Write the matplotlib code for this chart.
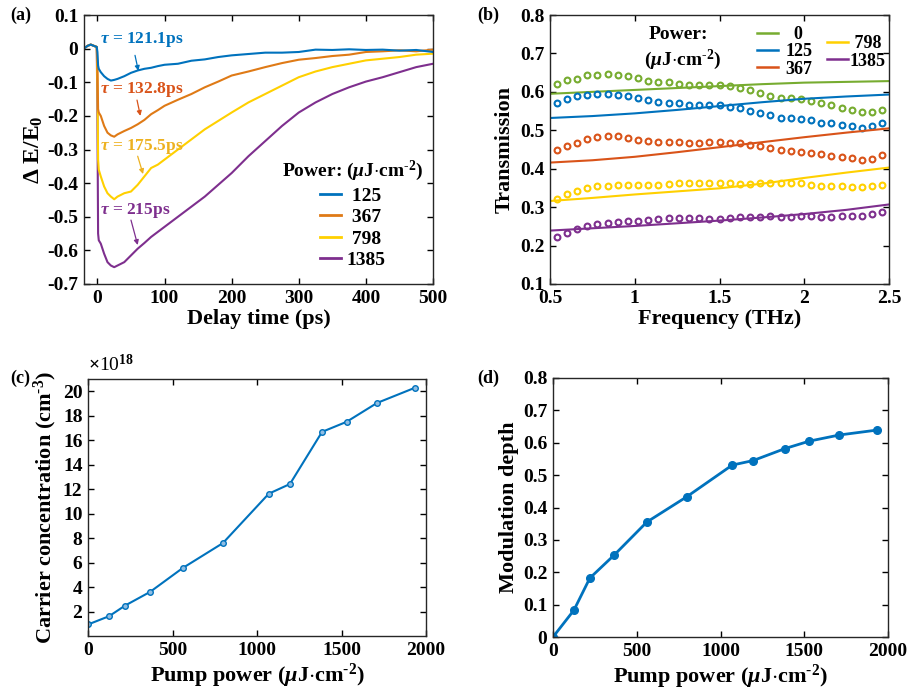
import numpy as np
import matplotlib
matplotlib.use("Agg")
import matplotlib.pyplot as plt
from matplotlib.lines import Line2D

plt.rcParams["font.family"] = ["Liberation Serif", "DejaVu Serif"]
plt.rcParams["font.weight"] = "bold"
plt.rcParams["axes.labelweight"] = "bold"
plt.rcParams["axes.unicode_minus"] = False
plt.rcParams["mathtext.fontset"] = "custom"
plt.rcParams["mathtext.rm"] = "Liberation Serif:bold"
plt.rcParams["mathtext.it"] = "Liberation Serif:italic:bold"
plt.rcParams["mathtext.bf"] = "Liberation Serif:bold"

# colours (MATLAB-like)
C_BLUE = "#0072BD"
C_ORANGE = "#DF7A16"
C_RED = "#D95319"
C_YELLOW = "#FFD000"
C_YELLOW_TXT = "#EDB120"
C_PURPLE = "#7E2F8E"
C_GREEN = "#77AC30"

# ---- panel (a): transient dE/E0 ----
delay_ps = [-20, -15, -10, -5, -1, 0, 1, 2, 5, 10, 15, 20, 25, 30, 40, 50, 60, 70,
            80, 90, 100, 120, 140, 160, 180, 200, 225, 250, 275, 300, 325, 350,
            375, 400, 425, 450, 475, 500]
de_125 = [0.0, 0.008, 0.012, 0.008, 0.005, -0.01, -0.05, -0.06, -0.07, -0.082, -0.09,
          -0.095, -0.093, -0.09, -0.082, -0.072, -0.065, -0.06, -0.057, -0.052, -0.048,
          -0.045, -0.036, -0.032, -0.025, -0.02, -0.016, -0.012, -0.012, -0.01, -0.003,
          -0.004, -0.002, -0.004, -0.003, -0.006, -0.004, -0.01]
de_367 = [0.0, 0.008, 0.012, 0.008, 0.005, -0.05, -0.18, -0.19, -0.2, -0.23, -0.25,
          -0.258, -0.262, -0.255, -0.245, -0.236, -0.225, -0.212, -0.195, -0.183, -0.17,
          -0.152, -0.135, -0.115, -0.098, -0.08, -0.068, -0.055, -0.043, -0.033, -0.028,
          -0.022, -0.018, -0.01, -0.008, -0.005, -0.008, -0.003]
de_798 = [0.0, 0.008, 0.012, 0.008, 0.005, -0.1, -0.33, -0.36, -0.38, -0.41, -0.43,
          -0.44, -0.448, -0.44, -0.43, -0.425, -0.405, -0.38, -0.355, -0.345, -0.33,
          -0.3, -0.27, -0.24, -0.215, -0.19, -0.16, -0.135, -0.11, -0.085, -0.068,
          -0.055, -0.045, -0.035, -0.03, -0.025, -0.018, -0.015]
de_1385 = [0.0, 0.008, 0.012, 0.008, 0.005, -0.2, -0.55, -0.57, -0.58, -0.61, -0.635,
           -0.645, -0.65, -0.645, -0.635, -0.615, -0.595, -0.578, -0.56, -0.545, -0.53,
           -0.5, -0.47, -0.44, -0.405, -0.37, -0.32, -0.275, -0.23, -0.19, -0.16,
           -0.135, -0.115, -0.098, -0.085, -0.07, -0.055, -0.045]
tau_labels = ["121.1", "132.8", "175.5", "215"]

# ---- panel (b): transmission spectra ----
freq_thz = [0.54, 0.60, 0.66, 0.72, 0.78, 0.84, 0.90, 0.96, 1.02, 1.08, 1.14, 1.20,
            1.26, 1.32, 1.38, 1.44, 1.50, 1.56, 1.62, 1.68, 1.74, 1.80, 1.86, 1.92,
            1.98, 2.04, 2.10, 2.16, 2.22, 2.28, 2.34, 2.40, 2.46]
tr_0 = [0.620, 0.630, 0.634, 0.643, 0.645, 0.646, 0.645, 0.641, 0.635, 0.629, 0.625,
        0.625, 0.621, 0.619, 0.619, 0.619, 0.618, 0.615, 0.609, 0.604, 0.597, 0.590,
        0.585, 0.584, 0.582, 0.576, 0.571, 0.565, 0.559, 0.553, 0.547, 0.547, 0.554]
tr_125 = [0.572, 0.582, 0.588, 0.593, 0.595, 0.595, 0.593, 0.590, 0.585, 0.579, 0.573,
          0.572, 0.570, 0.566, 0.566, 0.565, 0.565, 0.561, 0.557, 0.550, 0.545, 0.539,
          0.533, 0.531, 0.529, 0.526, 0.520, 0.518, 0.514, 0.510, 0.505, 0.510, 0.519]
tr_367 = [0.449, 0.459, 0.466, 0.477, 0.483, 0.484, 0.484, 0.479, 0.474, 0.472, 0.469,
          0.469, 0.469, 0.468, 0.468, 0.470, 0.469, 0.467, 0.466, 0.463, 0.458, 0.454,
          0.449, 0.446, 0.443, 0.442, 0.438, 0.433, 0.431, 0.427, 0.422, 0.425, 0.436]
tr_798 = [0.322, 0.335, 0.342, 0.350, 0.354, 0.356, 0.358, 0.358, 0.358, 0.358, 0.358,
          0.361, 0.362, 0.363, 0.363, 0.364, 0.363, 0.363, 0.361, 0.361, 0.362, 0.362,
          0.362, 0.362, 0.362, 0.358, 0.356, 0.356, 0.354, 0.353, 0.352, 0.354, 0.358]
tr_1385 = [0.222, 0.232, 0.243, 0.251, 0.255, 0.259, 0.261, 0.263, 0.265, 0.266, 0.269,
           0.272, 0.273, 0.273, 0.272, 0.270, 0.270, 0.273, 0.274, 0.275, 0.275, 0.276,
           0.275, 0.275, 0.276, 0.276, 0.275, 0.275, 0.277, 0.277, 0.277, 0.281, 0.287]
# fitted curves
fit_freq = [0.5, 0.75, 1.0, 1.25, 1.5, 1.75, 2.0, 2.25, 2.5]
fit_0 = [0.595, 0.600, 0.605, 0.610, 0.615, 0.620, 0.624, 0.626, 0.628]
fit_125 = [0.532, 0.537, 0.544, 0.553, 0.563, 0.573, 0.582, 0.588, 0.593]
fit_367 = [0.416, 0.422, 0.431, 0.443, 0.456, 0.469, 0.482, 0.494, 0.505]
fit_798 = [0.316, 0.324, 0.333, 0.341, 0.349, 0.361, 0.376, 0.390, 0.403]
fit_1385 = [0.239, 0.245, 0.251, 0.258, 0.265, 0.273, 0.282, 0.293, 0.307]

# ---- panels (c), (d) ----
pump_power = [0, 125, 220, 367, 560, 798, 1070, 1195, 1385, 1530, 1710, 1932]
carrier_1e18 = [0.94, 1.62, 2.49, 3.60, 5.55, 7.59, 11.63, 12.42, 16.68, 17.50, 19.04, 20.27]
mod_depth = [0.0, 0.083, 0.182, 0.254, 0.355, 0.433, 0.531, 0.545, 0.582, 0.605, 0.624, 0.639]

TICK_FS = 14
LABEL_FS = 16
W, H = 908, 693
UNIT = r"($\mu$J$\cdot$cm$^{\text{-2}}$)"


def style_axes(ax):
    ax.tick_params(direction="in", top=True, right=True, labelsize=TICK_FS,
                   length=4, width=1, pad=4)
    for s in ax.spines.values():
        s.set_linewidth(1.0)
        s.set_color("#262626")


def fig_rect(left, top, right, bottom):
    return [left / W, 1 - bottom / H, (right - left) / W, (bottom - top) / H]


fig = plt.figure(figsize=(9.08, 6.93), dpi=100)

# (a)
ax = fig.add_axes(fig_rect(84, 15, 433, 284))
series_a = [(de_125, C_BLUE, "125"), (de_367, C_ORANGE, "367"),
            (de_798, C_YELLOW, "798"), (de_1385, C_PURPLE, "1385")]
for y, c, lab in reversed(series_a):
    ax.plot(delay_ps, y, color=c, lw=1.5, label=lab)
ax.set_xlim(-20, 500)
ax.set_ylim(-0.7, 0.1)
ax.set_xticks([0, 100, 200, 300, 400, 500])
ax.set_yticks(np.round(np.arange(-0.7, 0.11, 0.1), 1))
ax.set_yticklabels(["-0.7", "-0.6", "-0.5", "-0.4", "-0.3", "-0.2", "-0.1", "0", "0.1"])
ax.set_xlabel("Delay time (ps)", fontsize=LABEL_FS, labelpad=2)
ax.set_ylabel(r"$\Delta$ E/E$_0$", fontsize=LABEL_FS + 1, labelpad=2)
style_axes(ax)

ann = [  # text pos, arrow start, arrow end
    ((4, 0.026), (56, -0.02), (61, -0.066), C_BLUE),
    ((4, -0.123), (59, -0.153), (64, -0.2), C_RED),
    ((4, -0.292), (60, -0.32), (68, -0.373), C_YELLOW_TXT),
    ((4, -0.482), (50, -0.51), (60, -0.584), C_PURPLE),
]
for (tp, a0, a1, c), tv in zip(ann, tau_labels):
    ax.text(tp[0], tp[1], r"$\tau$ = " + tv + "ps", color=c, fontsize=12.5,
            va="center", ha="left")
    ax.annotate("", xy=a1, xytext=a0,
                arrowprops=dict(arrowstyle="-|>", color=c, lw=0.9,
                                mutation_scale=7, shrinkA=0, shrinkB=0))

handles = [Line2D([], [], color=c, lw=2) for _, c, _ in series_a]
leg = ax.legend(handles, [" 125", " 367", " 798", "1385"], loc="upper center",
                bbox_to_anchor=(0.77, 0.53), frameon=False, fontsize=14,
                handlelength=1.1, handletextpad=0.3, labelspacing=0.2,
                title="Power: " + UNIT,
                title_fontproperties={"size": 14, "weight": "bold"})

# (b)
ax = fig.add_axes(fig_rect(550, 15, 889, 284))
series_b = [(tr_0, fit_0, C_GREEN, "0"), (tr_125, fit_125, C_BLUE, "125"),
            (tr_367, fit_367, C_RED, "367"), (tr_798, fit_798, C_YELLOW, "798"),
            (tr_1385, fit_1385, C_PURPLE, "1385")]
for dots, fit, c, lab in series_b:
    ax.plot(fit_freq, fit, color=c, lw=1.5)
    ax.plot(freq_thz, dots, "o", ls="none", mfc="none", mec=c, ms=4.2, mew=1.5)
ax.set_xlim(0.5, 2.5)
ax.set_ylim(0.1, 0.8)
ax.set_xticks([0.5, 1, 1.5, 2, 2.5])
ax.set_xticklabels(["0.5", "1", "1.5", "2", "2.5"])
ax.set_yticks([0.1, 0.2, 0.3, 0.4, 0.5, 0.6, 0.7, 0.8])
ax.set_xlabel("Frequency (THz)", fontsize=LABEL_FS, labelpad=2)
ax.set_ylabel("Transmission", fontsize=LABEL_FS, labelpad=4)
style_axes(ax)
ax.text(0.378, 0.926, "Power:", transform=ax.transAxes, fontsize=14,
        ha="center", va="center")
ax.text(0.39, 0.833, UNIT, transform=ax.transAxes,
        fontsize=14, ha="center", va="center")
h1 = [Line2D([], [], color=c, lw=1.8) for _, _, c, _ in series_b[:3]]
l1 = ax.legend(h1, ["  0", "125", "367"], loc="upper left", bbox_to_anchor=(0.58, 1.0),
               frameon=False, fontsize=13, handlelength=1.15, handletextpad=0.4,
               labelspacing=0.02, borderaxespad=0.2)
ax.add_artist(l1)
h2 = [Line2D([], [], color=c, lw=1.8) for _, _, c, _ in series_b[3:]]
ax.legend(h2, [" 798", "1385"], loc="upper left", bbox_to_anchor=(0.785, 0.965),
          frameon=False, fontsize=13, handlelength=1.15, handletextpad=0.1,
          labelspacing=0.02, borderaxespad=0.2)

# (c)
ax = fig.add_axes(fig_rect(88, 379, 426, 636))
ax.plot(pump_power, carrier_1e18, color=C_BLUE, lw=1.5, marker="o", ms=4,
        mfc="#8fbde3", mec=C_BLUE, mew=1.0)
ax.set_xlim(0, 2000)
ax.set_ylim(0, 21)
ax.set_xticks([0, 500, 1000, 1500, 2000])
ax.set_yticks(range(2, 21, 2))
ax.set_xlabel("Pump power " + UNIT, fontsize=LABEL_FS, labelpad=2)
ax.set_ylabel(r"Carrier concentration (cm$^{\text{-3}}$)", fontsize=LABEL_FS, labelpad=3)
ax.text(0.0, 1.015, r"$\times$10$^{\mathrm{18}}$", transform=ax.transAxes,
        fontsize=14, fontweight="normal", ha="left", va="bottom")
style_axes(ax)

# (d)
ax = fig.add_axes(fig_rect(553, 378, 888, 637))
ax.plot(pump_power, mod_depth, color=C_BLUE, lw=2, marker="o", ms=5.5,
        mfc=C_BLUE, mec=C_BLUE)
ax.set_xlim(0, 2000)
ax.set_ylim(0, 0.8)
ax.set_xticks([0, 500, 1000, 1500, 2000])
ax.set_yticks([0, 0.1, 0.2, 0.3, 0.4, 0.5, 0.6, 0.7, 0.8])
ax.set_yticklabels(["0", "0.1", "0.2", "0.3", "0.4", "0.5", "0.6", "0.7", "0.8"])
ax.set_xlabel("Pump power " + UNIT, fontsize=LABEL_FS, labelpad=2)
ax.set_ylabel("Modulation depth", fontsize=LABEL_FS, labelpad=3)
style_axes(ax)

# panel tags
for tag, x, y in [("(a)", 10, 15), ("(b)", 477, 15), ("(c)", 10, 378), ("(d)", 477, 378)]:
    fig.text(x / W, 1 - y / H, tag, fontsize=13, ha="left", va="center")

fig.savefig("out.png", dpi=100)
